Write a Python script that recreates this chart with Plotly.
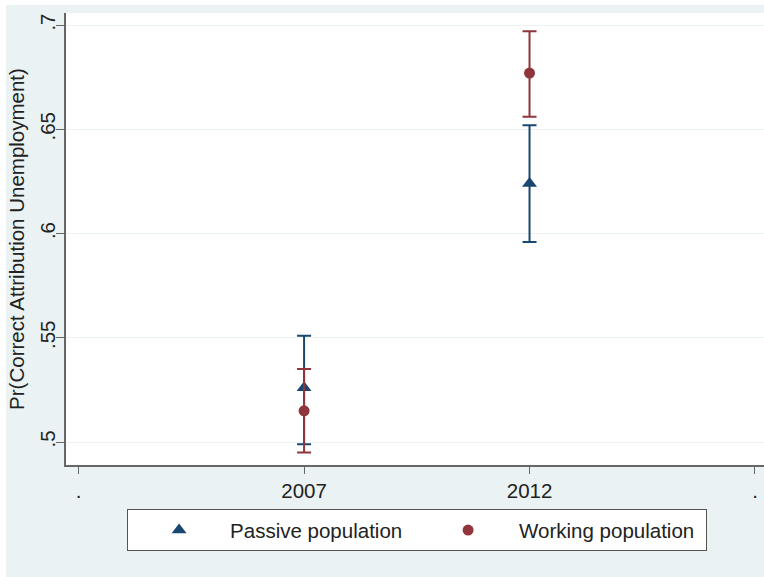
import plotly.graph_objects as go

# ---- data ----
years = [2007, 2012]
passive_est = [0.526, 0.624]
passive_lo = [0.499, 0.596]
passive_hi = [0.551, 0.652]
working_est = [0.515, 0.677]
working_lo = [0.495, 0.656]
working_hi = [0.535, 0.697]

x_tickvals = [2002, 2007, 2012, 2017]
x_ticktext = [".", "2007", "2012", "."]
y_tickvals = [0.5, 0.55, 0.6, 0.65, 0.7]
y_ticktext = [".5", ".55", ".6", ".65", ".7"]

NAVY = "#1a476f"
MAROON = "#90353b"
BG = "#eaf2f3"
TXT = "#222222"
FONT = "Arial, Liberation Sans, sans-serif"
FS = 20.5

W, H = 764, 577
L, R, T, B = 66, 0, 13, 112
pw = W - L - R
ph = H - T - B


def err(est, lo, hi):
    return dict(type="data", symmetric=False,
                array=[h - e for e, h in zip(est, hi)],
                arrayminus=[e - l for e, l in zip(est, lo)])


fig = go.Figure()
fig.add_trace(go.Scatter(
    x=years, y=passive_est, mode="markers", name="Passive population",
    marker=dict(symbol="triangle-up", size=13, color=NAVY),
    error_y=dict(**err(passive_est, passive_lo, passive_hi),
                 color=NAVY, thickness=2, width=7),
))
fig.add_trace(go.Scatter(
    x=years, y=working_est, mode="markers", name="Working population",
    marker=dict(symbol="circle", size=11, color=MAROON),
    error_y=dict(**err(working_est, working_lo, working_hi),
                 color=MAROON, thickness=2, width=7),
))

# light blue-grey graph region (white page border of 6px left / 5px top)
fig.add_shape(type="rect", xref="paper", yref="paper",
              x0=(-L + 6) / pw, x1=(pw + R) / pw, y0=-B / ph, y1=(ph + T - 5) / ph,
              fillcolor=BG, line_width=0, layer="below")
# white plot region
fig.add_shape(type="rect", xref="paper", yref="paper",
              x0=0, x1=1, y0=0, y1=1,
              fillcolor="white", line_width=0, layer="below")

fig.update_layout(
    width=W, height=H,
    margin=dict(l=L, r=R, t=T, b=B, autoexpand=False),
    paper_bgcolor="white", plot_bgcolor="white",
    font=dict(family=FONT, size=FS, color=TXT),
    showlegend=True,
    legend=dict(
        orientation="h", x=0.503, xanchor="center", y=-0.098, yanchor="top",
        bgcolor="white", bordercolor="#555555", borderwidth=1,
        font=dict(family=FONT, size=FS, color=TXT),
        itemwidth=92, entrywidth=182,
        traceorder="normal",
    ),
    xaxis=dict(
        range=[2001.72, 2017.2], tickvals=x_tickvals, ticktext=x_ticktext,
        showgrid=False, zeroline=False, showline=True, linecolor="#666666",
        linewidth=1.5, ticks="outside", ticklen=7, tickcolor="#666666",
        tickfont=dict(size=FS, color=TXT), automargin=False,
    ),
    yaxis=dict(
        range=[0.489, 0.7058], tickvals=y_tickvals, ticktext=y_ticktext,
        showgrid=True, gridcolor=BG, gridwidth=1, zeroline=False,
        showline=True, linecolor="#666666", linewidth=1.5,
        ticks="outside", ticklen=8, tickcolor="#666666", tickangle=-90,
        ticklabelstandoff=-7,
        tickfont=dict(size=FS, color=TXT), automargin=False,
        title=dict(text="Pr(Correct Attribution Unemployment)",
                   font=dict(size=FS, color=TXT), standoff=6),
    ),
)

fig.write_html("out.html", config={"displayModeBar": False},
               post_script="document.body.style.margin='0px';")
